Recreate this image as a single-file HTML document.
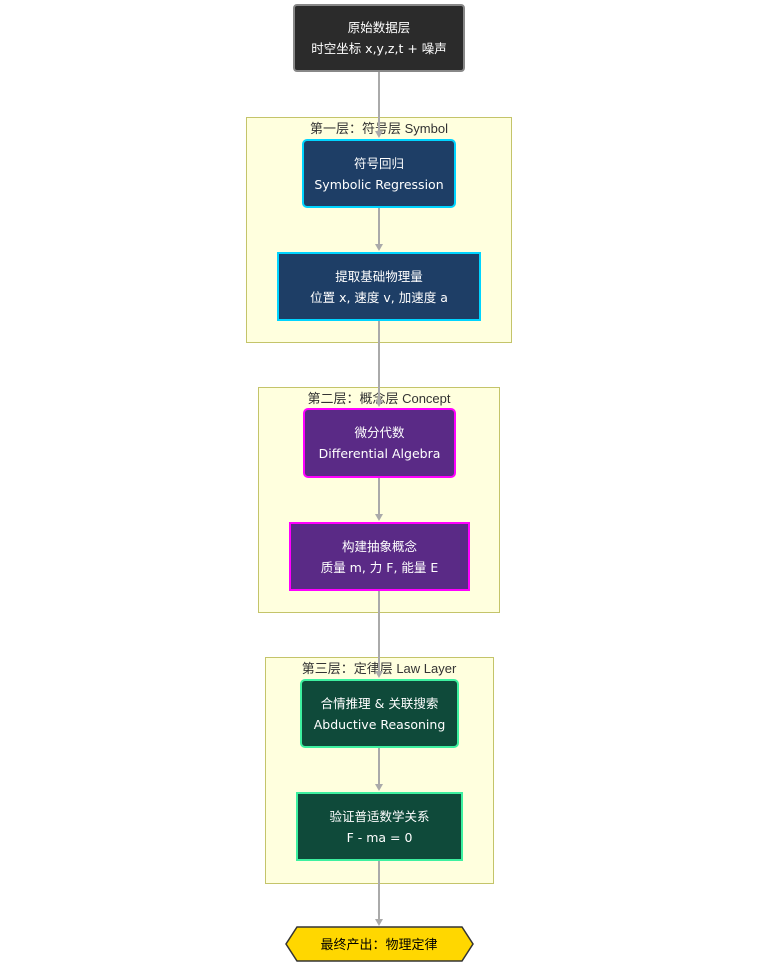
<!DOCTYPE html>
<html><head><meta charset="utf-8"><style>
body{margin:0;width:760px;height:969px;background:#fff;position:relative;overflow:hidden;font-family:"Liberation Sans","Noto Sans CJK SC",sans-serif;}
.c{position:absolute;background:#ffffde;border:1px solid #c4c46a;box-sizing:border-box;}
.t{position:absolute;font-size:13px;color:#333;text-align:center;width:300px;}
.n{position:absolute;box-sizing:border-box;color:#fff;font-size:12.5px;line-height:21px;text-align:center;display:flex;flex-direction:column;justify-content:center;font-family:"DejaVu Sans","Noto Sans CJK SC",sans-serif;}
</style></head><body>
<div class="c" style="left:246px;top:117px;width:266px;height:226px"></div>
<div class="c" style="left:258px;top:387px;width:242px;height:226px"></div>
<div class="c" style="left:265px;top:657px;width:229px;height:227px"></div>
<div class="t" style="left:229px;top:118px">第一层：符号层 Symbol</div>
<div class="t" style="left:229px;top:388px">第二层：概念层 Concept</div>
<div class="t" style="left:229px;top:658px">第三层：定律层 Law Layer</div>
<svg style="position:absolute;left:0;top:0" width="760" height="969">
<g stroke="#aaa" stroke-width="2" fill="#aaa">
<line x1="379" y1="72" x2="379" y2="135"/>
<line x1="379" y1="208" x2="379" y2="248"/>
<line x1="379" y1="320" x2="379" y2="404"/>
<line x1="379" y1="478" x2="379" y2="518"/>
<line x1="379" y1="590" x2="379" y2="675"/>
<line x1="379" y1="747" x2="379" y2="788"/>
<line x1="379" y1="860" x2="379" y2="923"/>
</g>
<g fill="#aaa">
<path d="M375 131 L383 131 L379 138Z"/><path d="M375 244 L383 244 L379 251Z"/>
<path d="M375 400 L383 400 L379 407Z"/><path d="M375 514 L383 514 L379 521Z"/>
<path d="M375 671 L383 671 L379 678Z"/><path d="M375 784 L383 784 L379 791Z"/>
<path d="M375 919 L383 919 L379 926Z"/>
</g>
<polygon points="297,927 462,927 473,944 462,961 297,961 286,944" fill="#ffd700" stroke="#333" stroke-width="1.5"/>
<text x="379" y="949" text-anchor="middle" font-size="13" fill="#000" font-family="DejaVu Sans, Noto Sans CJK SC, sans-serif">最终产出：物理定律</text>
</svg>
<div class="n" style="left:293px;top:4px;width:172px;height:68px;background:#2b2b2b;border:2px solid #888;border-radius:4px">原始数据层<span>时空坐标 x,y,z,t + 噪声</span></div>
<div class="n" style="left:302px;top:139px;width:154px;height:69px;background:#1e3e66;border:2px solid #00d4ff;border-radius:5px">符号回归<span>Symbolic Regression</span></div>
<div class="n" style="left:277px;top:252px;width:204px;height:69px;background:#1e3e66;border:2px solid #00d4ff">提取基础物理量<span>位置 x, 速度 v, 加速度 a</span></div>
<div class="n" style="left:303px;top:408px;width:153px;height:70px;background:#5a2a86;border:2px solid #ff00ff;border-radius:5px">微分代数<span>Differential Algebra</span></div>
<div class="n" style="left:289px;top:522px;width:181px;height:69px;background:#5a2a86;border:2px solid #ff00ff">构建抽象概念<span>质量 m, 力 F, 能量 E</span></div>
<div class="n" style="left:300px;top:679px;width:159px;height:69px;background:#0f4a3a;border:2px solid #3ef0a0;border-radius:5px">合情推理 &amp; 关联搜索<span>Abductive Reasoning</span></div>
<div class="n" style="left:296px;top:792px;width:167px;height:69px;background:#0f4a3a;border:2px solid #3ef0a0">验证普适数学关系<span>F - ma = 0</span></div>
</body></html>
